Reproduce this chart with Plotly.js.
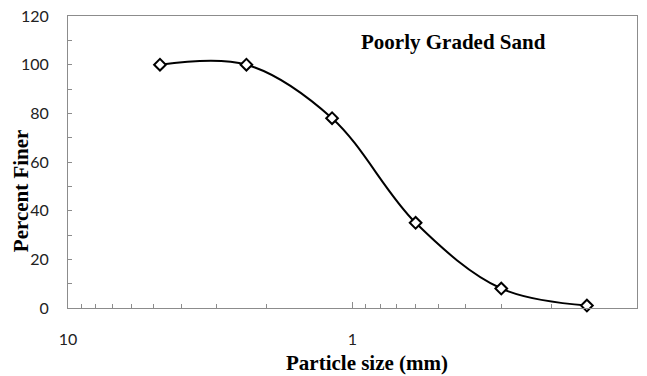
<!DOCTYPE html>
<html>
<head>
<meta charset="utf-8">
<script src="https://cdn.plot.ly/plotly-3.0.1.min.js"></script>
<style>
  html, body { margin: 0; padding: 0; background: #fff; }
  #chart { width: 647px; height: 376px; }
</style>
</head>
<body>
<div id="chart"></div>
<script>
// Sieve analysis: particle size (mm) vs. percent finer
var sieveSizes = [4.75, 2.36, 1.18, 0.6, 0.3, 0.15];
var percentFiner = [100, 100, 78, 35, 8, 1];

// Decade labels and minor log ticks on the size axis
var xTickVals = [10, 1, 0.1];
var xTickText = ['10', '1', '0.1'];
var xMinorVals = [9, 8, 7, 6, 5, 4, 3, 2, 0.9, 0.8, 0.7, 0.6, 0.5, 0.4, 0.3, 0.2];

var chartTitle = 'Poorly Graded Sand';
var xTitle = 'Particle size (mm)';
var yTitle = 'Percent Finer';

var axisColor = '#8c8c8c';
var tickFont = { family: 'Lato, "Liberation Sans", sans-serif', size: 16, color: '#222' };
var titleFont = { family: '"Liberation Serif", "DejaVu Serif", serif', size: 21, color: '#000' };

var trace = {
  x: sieveSizes,
  y: percentFiner,
  type: 'scatter',
  mode: 'lines+markers',
  line: { color: '#000', width: 2, shape: 'spline', smoothing: 1 },
  marker: {
    symbol: 'diamond',
    size: 9,
    color: '#fff',
    line: { color: '#000', width: 2 }
  },
  cliponaxis: false,
  hoverinfo: 'x+y'
};

var layout = {
  width: 647,
  height: 376,
  margin: { l: 68, r: 10, t: 16, b: 68 },
  paper_bgcolor: '#fff',
  plot_bgcolor: '#fff',
  showlegend: false,
  xaxis: {
    type: 'log',
    range: [1, -1],
    tickmode: 'array',
    tickvals: xTickVals,
    ticktext: xTickText,
    ticks: 'inside',
    ticklen: 6,
    tickwidth: 1,
    tickcolor: axisColor,
    minor: {
      tickmode: 'array',
      tickvals: xMinorVals,
      ticks: 'inside',
      ticklen: 4,
      tickwidth: 1,
      tickcolor: axisColor,
      showgrid: false
    },
    showline: true,
    linecolor: axisColor,
    linewidth: 1,
    mirror: true,
    showgrid: false,
    zeroline: false,
    tickfont: tickFont,
    ticklabelstandoff: 17
  },
  yaxis: {
    range: [0, 120],
    tickmode: 'linear',
    tick0: 0,
    dtick: 20,
    ticks: 'inside',
    ticklen: 4,
    tickwidth: 1,
    tickcolor: axisColor,
    minor: {
      dtick: 10,
      ticks: 'inside',
      ticklen: 4,
      tickwidth: 1,
      tickcolor: axisColor,
      showgrid: false
    },
    showline: true,
    linecolor: axisColor,
    linewidth: 1,
    mirror: true,
    showgrid: false,
    zeroline: false,
    tickfont: tickFont,
    ticklabelstandoff: 15
  },
  annotations: [
    {
      text: '<b>' + chartTitle + '</b>',
      xref: 'paper', yref: 'paper',
      x: 0.677, y: 0.911,
      xanchor: 'center', yanchor: 'middle',
      showarrow: false,
      font: titleFont
    },
    {
      text: '<b>' + xTitle + '</b>',
      xref: 'paper', yref: 'paper',
      x: 0.525, y: -0.188,
      xanchor: 'center', yanchor: 'middle',
      showarrow: false,
      font: titleFont
    },
    {
      text: '<b>' + yTitle + '</b>',
      xref: 'paper', yref: 'paper',
      x: -0.0826, y: 0.40,
      xanchor: 'center', yanchor: 'middle',
      textangle: -90,
      showarrow: false,
      font: titleFont
    }
  ]
};

Plotly.newPlot('chart', [trace], layout, { displayModeBar: false, staticPlot: true });
</script>
</body>
</html>
